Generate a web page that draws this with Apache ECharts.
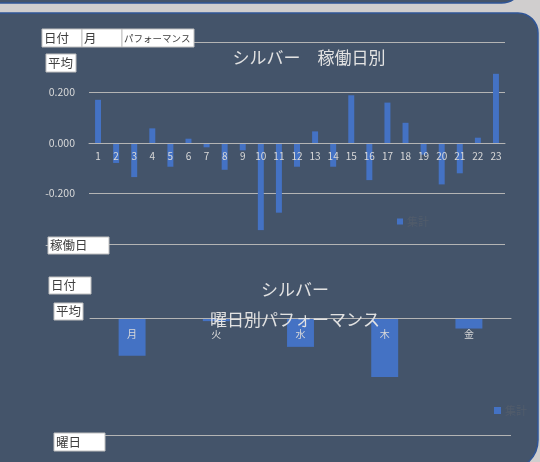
<!DOCTYPE html>
<html><head><meta charset="utf-8">
<script src="https://cdn.jsdelivr.net/npm/echarts@6/dist/echarts.min.js"></script>
<style>html,body{margin:0;padding:0;background:#d0cece;}#c{width:540px;height:462px;}</style>
</head><body><div id="c"></div>
<script>
const seriesName = '集計';
const dayCategories = ['1','2','3','4','5','6','7','8','9','10','11','12','13','14','15','16','17','18','19','20','21','22','23'];
const dayValues = [0.171,-0.079,-0.135,0.058,-0.094,0.017,-0.017,-0.106,-0.029,-0.345,-0.276,-0.094,0.046,-0.094,0.189,-0.147,0.160,0.080,-0.046,-0.164,-0.120,0.021,0.274];
const dayAxisMin = -0.4, dayAxisMax = 0.4, dayAxisStep = 0.2;
const weekdayCategories = ['月','火','水','木','金'];
const weekdayValues = [-0.097,-0.008,-0.074,-0.151,-0.027];
const weekAxisMin = -0.3, weekAxisMax = 0, weekAxisStep = 0.3;
const title1 = 'シルバー　稼働日別';
const title2 = 'シルバー\n\n曜日別パフォーマンス';

const FONT = '"Noto Sans CJK JP", "Noto Sans", sans-serif';
const BAR = '#4472c4';
const GRIDC = '#b4b4b4';
const LBL = '#d9d9d9';
const G1H = 202, G2H = 117;
// place category axis on the zero line
const dayZeroOffset = -(0 - dayAxisMin) / (dayAxisMax - dayAxisMin) * G1H;

function btn(x, y, w, h, text, fs) {
  return {
    type: 'group', x: x, y: y, z: 100,
    children: [
      {type: 'rect', z: 100, shape: {x: 0, y: 0, width: w, height: h}, style: {fill: '#ffffff', stroke: '#bfbfbf', lineWidth: 1}},
      {type: 'text', z: 101, x: 2, y: h / 2, style: {text: text, fill: '#404040', font: fs + 'px ' + FONT, verticalAlign: 'middle'}}
    ]
  };
}

const chart = echarts.init(document.getElementById('c'));
chart.setOption({
  backgroundColor: '#d0cece',
  animation: false,
  graphic: {elements: [
    {type: 'rect', z: -10, shape: {x: -30, y: -40, width: 553, height: 43, r: 22}, style: {fill: '#44546a', stroke: '#2f5597', lineWidth: 1.5}},
    {type: 'rect', z: -10, shape: {x: -30, y: 13, width: 568, height: 457, r: [0, 20, 30, 0]}, style: {fill: '#44546a', stroke: '#2f5597', lineWidth: 1.5}},
    btn(42, 29, 40, 18, '日付', 12.5),
    btn(82, 29, 40, 18, '月', 12.5),
    btn(122, 29, 72, 18, 'パフォーマンス', 9.5),
    btn(46, 54, 30, 18, '平均', 12.5),
    btn(48, 237, 61, 17, '稼働日', 12.5),
    btn(49, 277, 42, 17, '日付', 12.5),
    btn(54, 303, 29, 17, '平均', 12.5),
    btn(54, 433, 51, 18, '曜日', 12.5)
  ]},
  title: [
    {text: title1, left: 304, top: 44, textAlign: 'center', textStyle: {color: '#e2e2e2', fontSize: 17, fontWeight: 'normal', fontFamily: FONT}},
    {text: title2, left: 290, top: 277, textAlign: 'center', textStyle: {color: '#e2e2e2', fontSize: 17, fontWeight: 'normal', fontFamily: FONT, lineHeight: 15}}
  ],
  legend: [
    {data: [seriesName], left: 397, top: 216, padding: 0, icon: 'rect', itemWidth: 6, itemHeight: 6, itemGap: 4,
     textStyle: {color: '#525c6b', fontSize: 11, fontFamily: FONT, padding: [0, 0, 0, -1]}},
    {data: [seriesName], left: 494, top: 405, padding: 0, icon: 'rect', itemWidth: 7, itemHeight: 7, itemGap: 4,
     textStyle: {color: '#525c6b', fontSize: 11, fontFamily: FONT, padding: [0, 0, 0, -1]}}
  ],
  grid: [
    {left: 89, right: 35, top: 42, height: G1H},
    {left: 90, right: 29, top: 318, height: G2H}
  ],
  xAxis: [
    {type: 'category', gridIndex: 0, data: dayCategories, z: 5, position: 'bottom', offset: dayZeroOffset,
     axisLine: {show: true, onZero: false, lineStyle: {color: GRIDC, width: 1}}, axisTick: {show: false},
     axisLabel: {color: LBL, fontSize: 10, fontFamily: FONT, margin: 8, interval: 0}},
    {type: 'category', gridIndex: 1, data: weekdayCategories, z: 5, position: 'top',
     axisLine: {show: true, onZero: false, lineStyle: {color: GRIDC, width: 1}}, axisTick: {show: false},
     axisLabel: {color: LBL, fontSize: 10, fontFamily: FONT, margin: 11, interval: 0, inside: true}}
  ],
  yAxis: [
    {type: 'value', gridIndex: 0, min: dayAxisMin, max: dayAxisMax, interval: dayAxisStep,
     axisLine: {show: false}, axisTick: {show: false},
     splitLine: {lineStyle: {color: GRIDC, width: 1}},
     axisLabel: {color: LBL, fontSize: 10.5, fontFamily: FONT, margin: 14, formatter: v => v.toFixed(3)}},
    {type: 'value', gridIndex: 1, min: weekAxisMin, max: weekAxisMax, interval: weekAxisStep,
     axisLine: {show: false}, axisTick: {show: false},
     splitLine: {lineStyle: {color: GRIDC, width: 1}},
     axisLabel: {show: false}}
  ],
  series: [
    {type: 'bar', name: seriesName, xAxisIndex: 0, yAxisIndex: 0, data: dayValues, barWidth: '33%', itemStyle: {color: BAR}},
    {type: 'bar', name: seriesName, xAxisIndex: 1, yAxisIndex: 1, data: weekdayValues, barWidth: '32%', itemStyle: {color: BAR}}
  ]
});
</script>
</body></html>
